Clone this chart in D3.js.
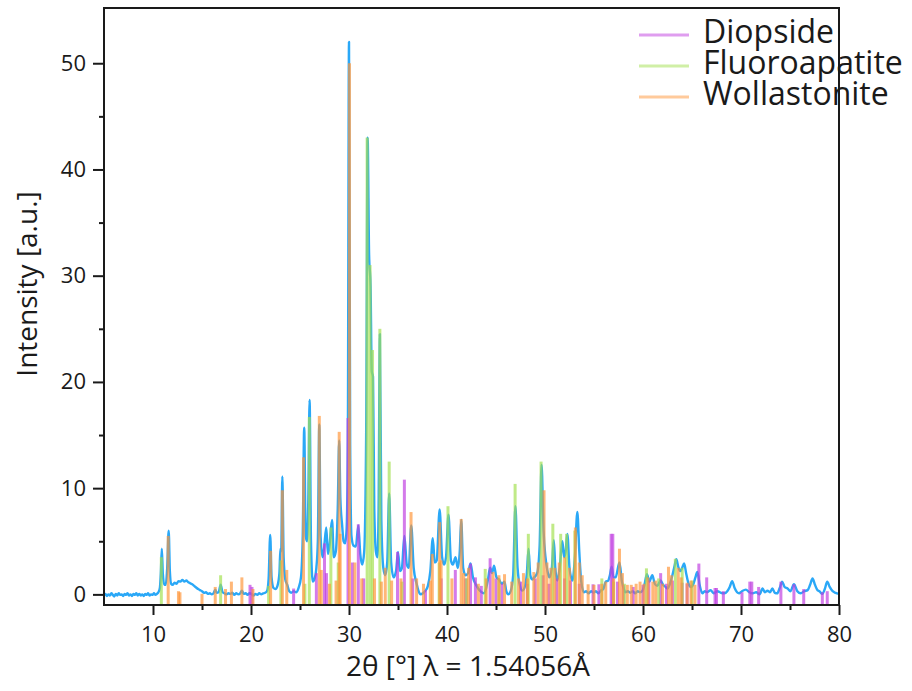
<!DOCTYPE html>
<html>
<head>
<meta charset="utf-8">
<script src="https://cdn.jsdelivr.net/npm/d3@7"></script>
<style>
  body { margin: 0; background: #fff; }
  text { font-family: "Open Sans", sans-serif; fill: #1a1a1a; }
</style>
</head>
<body>
<div id="chart"></div>
<script>
// measured pattern, [2theta, intensity]
var pattern = [
  [5.0,-0.1],[5.15,0.05],[5.3,-0.15],[5.45,0.0],[5.6,-0.1],[5.75,0.1],[5.9,-0.05],[6.05,-0.2],[6.2,0.05],[6.35,-0.1],
  [6.5,0.1],[6.65,-0.05],[6.8,0.0],[6.95,-0.15],[7.1,0.05],[7.25,-0.05],[7.4,0.1],[7.55,-0.1],[7.7,0.0],[7.85,-0.15],
  [8.0,0.05],[8.15,-0.05],[8.3,0.1],[8.45,-0.1],[8.6,0.05],[8.75,-0.1],[8.9,0.0],[9.05,-0.15],[9.2,0.05],[9.35,-0.05],
  [9.5,0.1],[9.65,-0.1],[9.8,0.0],[9.95,-0.05],[10.1,0.1],[10.25,-0.05],[10.4,0.05],[10.55,0.2],
  [10.7,0.6],[10.8,2.0],[10.9,4.3],[11.0,2.0],[11.15,0.9],[11.3,0.9],[11.45,2.5],[11.6,6.0],[11.72,2.2],[11.85,1.0],
  [12.0,0.9],[12.2,1.1],[12.4,1.0],[12.6,1.25],[12.8,1.2],[13.0,1.35],[13.2,1.2],[13.4,1.3],[13.6,1.15],[13.8,1.05],
  [14.0,0.95],[14.2,0.8],[14.4,0.65],[14.6,0.5],[14.8,0.4],[15.0,0.3],[15.2,0.15],[15.4,0.2],[15.6,0.05],[15.8,0.1],
  [16.0,0.0],[16.2,0.15],[16.35,0.45],[16.5,0.15],[16.7,0.2],[16.9,0.9],[17.1,0.2],[17.3,0.1],[17.5,0.0],[17.7,0.1],
  [17.9,0.05],[18.1,0.15],[18.3,-0.05],[18.5,0.1],[18.7,0.0],[18.9,0.1],[19.07,0.35],[19.25,0.05],[19.45,0.1],[19.65,-0.05],
  [19.85,0.1],[20.05,0.05],[20.25,-0.1],[20.45,0.05],[20.65,-0.05],[20.85,0.1],[21.05,0.0],[21.25,0.1],[21.45,0.15],[21.65,0.35],
  [21.8,1.5],[21.96,5.6],[22.1,1.6],[22.3,0.6],[22.5,0.5],[22.7,0.8],[22.9,2.0],[23.0,4.3],[23.08,4.0],[23.2,11.1],
  [23.33,3.5],[23.5,1.4],[23.7,0.9],[23.9,0.3],[24.1,0.15],[24.35,0.3],[24.6,0.2],[24.85,0.6],[25.1,1.6],[25.28,5.5],
  [25.43,15.7],[25.58,5.5],[25.72,5.0],[25.85,9.0],[25.98,18.3],[26.12,5.0],[26.3,1.2],[26.5,1.5],[26.67,2.5],[26.82,5.0],
  [26.97,16.0],[27.1,5.5],[27.3,3.5],[27.45,4.3],[27.68,6.3],[27.85,3.8],[28.0,4.5],[28.27,7.0],[28.45,3.5],[28.65,4.0],
  [28.85,8.0],[29.0,14.5],[29.12,9.0],[29.3,6.5],[29.45,5.0],[29.6,4.8],[29.75,6.0],[29.88,14.0],[30.0,52.0],[30.12,14.0],
  [30.25,5.5],[30.45,4.6],[30.7,4.5],[30.95,6.5],[31.15,3.8],[31.35,2.8],[31.55,4.0],[31.75,15.0],[31.9,43.0],[32.05,32.0],
  [32.2,29.0],[32.32,21.0],[32.45,20.5],[32.58,8.0],[32.75,4.0],[32.9,3.5],[33.02,8.0],[33.15,24.5],[33.3,7.0],[33.5,2.5],
  [33.7,1.8],[33.9,3.0],[34.1,9.5],[34.3,3.0],[34.55,1.6],[34.8,2.2],[35.0,4.0],[35.2,2.2],[35.4,2.5],[35.65,5.5],
  [35.9,2.8],[36.1,2.5],[36.35,6.5],[36.6,2.5],[36.9,1.0],[37.1,0.3],[37.3,0.0],[37.55,0.1],[37.8,0.35],[38.05,0.8],
  [38.3,2.2],[38.55,5.3],[38.75,3.0],[38.95,3.2],[39.25,8.0],[39.5,3.5],[39.7,2.8],[39.9,3.5],[40.15,7.5],[40.4,3.2],
  [40.6,2.8],[40.87,3.5],[41.1,2.5],[41.3,4.0],[41.45,7.0],[41.65,2.5],[41.9,1.8],[42.15,2.0],[42.4,2.9],[42.65,1.6],
  [42.9,1.0],[43.15,0.6],[43.4,0.3],[43.75,0.1],[44.0,0.6],[44.2,1.5],[44.4,2.5],[44.6,2.0],[44.8,2.7],[45.05,1.6],
  [45.3,1.4],[45.6,1.0],[45.87,1.2],[46.05,0.3],[46.25,0.0],[46.5,0.3],[46.75,1.8],[46.98,8.3],[47.2,2.5],[47.45,0.8],
  [47.7,0.35],[48.0,0.9],[48.15,2.0],[48.32,4.3],[48.5,1.8],[48.7,1.4],[48.9,1.6],[49.2,2.0],[49.45,4.5],[49.65,12.2],
  [49.85,6.0],[50.05,3.5],[50.25,2.2],[50.45,1.6],[50.7,2.5],[50.9,5.1],[51.05,2.5],[51.25,1.3],[51.5,2.5],[51.77,5.0],
  [51.95,3.5],[52.1,4.0],[52.28,5.7],[52.5,2.5],[52.8,1.3],[53.05,3.5],[53.3,7.75],[53.5,4.0],[53.7,1.2],[53.97,0.2],
  [54.2,0.3],[54.45,0.1],[54.7,0.3],[54.95,0.15],[55.2,0.3],[55.45,0.1],[55.7,0.35],[55.95,0.5],[56.2,1.2],[56.45,1.3],
  [56.62,1.8],[56.8,2.6],[57.0,1.6],[57.2,1.6],[57.6,3.0],[57.85,1.2],[58.05,0.5],[58.2,0.2],[58.45,0.3],[58.7,0.15],
  [58.95,0.3],[59.2,0.1],[59.45,0.3],[59.7,0.2],[59.95,0.35],[60.15,0.9],[60.4,1.9],[60.65,1.2],[60.95,1.8],[61.2,1.0],
  [61.45,0.8],[61.8,1.3],[62.05,0.9],[62.3,0.7],[62.5,0.55],[62.75,1.0],[63.0,1.8],[63.2,2.6],[63.4,3.3],[63.6,2.6],
  [63.8,2.2],[64.0,2.5],[64.2,2.9],[64.4,2.0],[64.65,1.0],[64.9,0.7],[65.15,1.0],[65.35,1.6],[65.55,2.1],[65.8,0.8],
  [66.06,0.1],[66.3,0.3],[66.55,0.2],[66.9,0.4],[67.2,0.1],[67.6,0.3],[67.95,0.15],[68.3,0.1],[68.6,0.3],[68.85,0.7],
  [69.1,1.25],[69.35,0.6],[69.6,0.2],[69.8,0.1],[70.1,0.3],[70.5,0.45],[70.85,0.2],[71.2,0.1],[71.55,0.2],[71.9,0.0],
  [72.2,0.55],[72.45,0.2],[72.7,0.35],[72.95,0.2],[73.2,0.55],[73.45,0.15],[73.7,0.1],[73.95,0.6],[74.2,1.2],[74.45,0.7],
  [74.75,0.55],[75.05,0.3],[75.4,0.95],[75.75,0.3],[76.1,0.1],[76.45,0.3],[76.8,0.4],[77.05,0.9],[77.3,1.5],[77.55,0.9],
  [77.8,0.4],[78.0,0.3],[78.3,0.05],[78.55,0.5],[78.8,1.2],[79.05,0.7],[79.35,0.3],[79.65,0.15],[80.0,0.05]
];

// reference sticks, [2theta, intensity]
var diopside = [
  [19.9,0.9],[20.1,0.7],[24.35,0.55],[26.67,2.0],[27.5,4.8],[27.7,2.0],[29.9,16.6],[30.35,3.0],[30.95,6.6],[31.5,1.5],
  [34.95,4.0],[35.65,10.8],[36.5,1.5],[37.8,0.4],[39.4,1.5],[40.85,2.3],[41.9,1.5],[42.4,2.9],[42.9,1.6],[43.5,0.8],
  [44.4,3.4],[45.0,1.5],[45.6,1.0],[47.5,1.2],[48.2,1.0],[49.0,1.5],[49.8,1.8],[50.4,1.0],[51.2,1.5],[52.0,1.5],
  [52.6,1.3],[53.5,1.0],[54.9,0.95],[55.5,0.95],[56.75,5.7],[56.92,5.7],[57.4,1.2],[58.0,0.9],[59.0,0.7],[60.0,0.9],
  [60.6,1.3],[61.8,2.0],[62.4,1.0],[63.0,1.3],[64.0,1.1],[64.5,1.0],[65.7,2.9],[66.5,1.6],[67.35,0.6],[67.5,0.6],
  [68.2,0.3],[70.1,0.2],[70.9,1.2],[71.1,1.2],[71.8,0.7],[74.07,1.2],[75.4,0.95],[76.4,0.5],[78.3,0.2],[78.8,0.3]
];
var fluoroapatite = [
  [10.85,3.5],[16.9,1.8],[21.8,0.8],[23.05,3.2],[25.5,1.0],[25.95,16.7],[28.15,6.3],[28.9,3.0],[31.85,43.0],[32.15,31.0],
  [32.4,23.0],[33.15,25.0],[34.1,12.5],[35.4,1.2],[39.2,3.0],[40.1,8.3],[42.0,1.5],[43.9,2.4],[45.3,1.5],[46.95,10.4],
  [48.3,5.7],[49.6,12.5],[50.8,6.65],[51.6,5.7],[52.2,5.7],[53.05,6.0],[55.8,1.5],[57.0,1.2],[58.1,1.0],[60.35,2.45],
  [61.6,1.5],[63.3,3.35],[64.0,2.5],[65.0,1.3]
];
var wollastonite = [
  [11.55,5.5],[12.6,0.3],[12.75,0.2],[15.0,0.05],[16.35,0.7],[17.4,0.5],[18.0,1.2],[19.07,1.6],[20.2,0.5],[22.0,4.1],
  [23.2,9.8],[23.65,2.3],[25.36,12.9],[26.97,16.8],[27.17,2.3],[28.0,1.0],[28.68,1.3],[29.0,15.3],[29.1,5.7],[30.05,50.0],
  [30.6,3.0],[31.3,1.5],[32.6,1.5],[33.3,1.2],[33.7,2.5],[34.35,1.3],[35.3,1.5],[36.33,7.75],[36.9,1.5],[37.6,1.0],
  [38.3,1.3],[38.5,3.8],[39.25,6.8],[39.4,3.2],[40.5,1.5],[41.45,7.1],[41.7,2.0],[42.2,2.5],[43.2,1.0],[44.0,1.5],
  [44.7,2.1],[45.3,1.8],[45.87,1.9],[46.6,1.2],[47.3,1.5],[47.8,2.0],[48.2,1.5],[48.86,2.1],[49.3,3.0],[49.9,9.8],
  [50.2,3.0],[50.6,2.5],[51.0,2.5],[51.45,3.0],[52.0,3.5],[52.5,2.5],[53.1,6.3],[53.5,3.0],[53.8,1.8],[54.4,0.95],
  [55.0,0.9],[55.8,1.0],[56.2,1.2],[57.0,1.5],[57.6,4.3],[57.9,2.0],[58.4,0.9],[58.8,0.9],[59.3,1.0],[59.7,1.2],
  [60.1,1.0],[60.5,1.6],[61.0,1.2],[61.3,1.3],[62.0,1.0],[62.6,2.6],[62.9,1.8],[63.6,2.5],[63.9,1.6],[64.5,1.1],
  [64.9,1.3],[65.3,0.9]
];

var xTicks = [10, 20, 30, 40, 50, 60, 70, 80];
var xMinorTicks = [15, 25, 35, 45, 55, 65, 75];
var yTicks = [0, 10, 20, 30, 40, 50];
var yMinorTicks = [5, 15, 25, 35, 45];
var phaseNames = ["Diopside", "Fluoroapatite", "Wollastonite"];

var width = 912;
var height = 691;
var plot = { left: 104, right: 839, top: 8, bottom: 605 };
var patternColor = "#2aa8f7";
var phaseColors = ["#c03ce0", "#a2e04e", "#ff9538"];

var x = d3.scaleLinear().domain([5, 80]).range([plot.left, plot.right]);
var y = d3.scaleLinear().domain([-1.0, 55.2]).range([plot.bottom, plot.top]);

var svg = d3.select("#chart").append("svg")
  .attr("width", width)
  .attr("height", height);

// pattern line
var line = d3.line()
  .x(function(d) { return x(d[0]); })
  .y(function(d) { return y(d[1]); })
  .curve(d3.curveMonotoneX);

svg.append("path")
  .datum(pattern)
  .attr("fill", "none")
  .attr("stroke", patternColor)
  .attr("stroke-width", 2.4)
  .attr("stroke-linejoin", "round")
  .attr("d", line);

// stick patterns
[diopside, fluoroapatite, wollastonite].forEach(function(phase, i) {
  svg.append("g")
    .selectAll("rect")
    .data(phase)
    .enter()
    .append("rect")
    .attr("x", function(d) { return x(d[0]) - 1.5; })
    .attr("width", 3)
    .attr("y", function(d) { return y(d[1]); })
    .attr("height", function(d) { return y.range()[0] - y(d[1]); })
    .attr("fill", phaseColors[i])
    .attr("fill-opacity", 0.68);
});

// frame + axes
svg.append("rect")
  .attr("x", plot.left)
  .attr("y", plot.top)
  .attr("width", plot.right - plot.left)
  .attr("height", plot.bottom - plot.top)
  .attr("fill", "none")
  .attr("stroke", "#1a1a1a")
  .attr("stroke-width", 2);

var xAxis = d3.axisBottom(x).tickValues(xTicks).tickSize(10).tickPadding(11).tickFormat(d3.format("d"));
var xMinor = d3.axisBottom(x).tickValues(xMinorTicks).tickSize(5).tickFormat("");
var yAxis = d3.axisLeft(y).tickValues(yTicks).tickSize(11).tickPadding(7).tickFormat(d3.format("d"));
var yMinor = d3.axisLeft(y).tickValues(yMinorTicks).tickSize(5).tickFormat("");

function styleAxis(g) {
  g.select(".domain").remove();
  g.selectAll("line").attr("stroke", "#1a1a1a").attr("stroke-width", 2);
  g.selectAll("text").style("font-size", "22px").attr("fill", "#1a1a1a");
}

svg.append("g").attr("transform", "translate(0," + plot.bottom + ")").call(xAxis).call(styleAxis);
svg.append("g").attr("transform", "translate(0," + plot.bottom + ")").call(xMinor).call(styleAxis);
svg.append("g").attr("transform", "translate(" + plot.left + ",0)").call(yAxis).call(styleAxis);
svg.append("g").attr("transform", "translate(" + plot.left + ",0)").call(yMinor).call(styleAxis);

svg.append("text")
  .attr("text-anchor", "middle")
  .attr("transform", "translate(37,284) rotate(-90)")
  .style("font-size", "28px")
  .text("Intensity [a.u.]");

svg.append("text")
  .attr("text-anchor", "middle")
  .attr("x", 468)
  .attr("y", 676)
  .style("font-size", "28px")
  .text("2θ [°] λ = 1.54056Å");

// legend
var legend = svg.append("g");
phaseNames.forEach(function(name, i) {
  var ly = 35 + i * 31;
  legend.append("line")
    .attr("x1", 639).attr("x2", 689)
    .attr("y1", ly).attr("y2", ly)
    .attr("stroke", phaseColors[i])
    .attr("stroke-opacity", 0.5)
    .attr("stroke-width", 3);
  legend.append("text")
    .attr("x", 703)
    .attr("y", ly + 8)
    .style("font-size", "32px")
    .text(name);
});
</script>
</body>
</html>
